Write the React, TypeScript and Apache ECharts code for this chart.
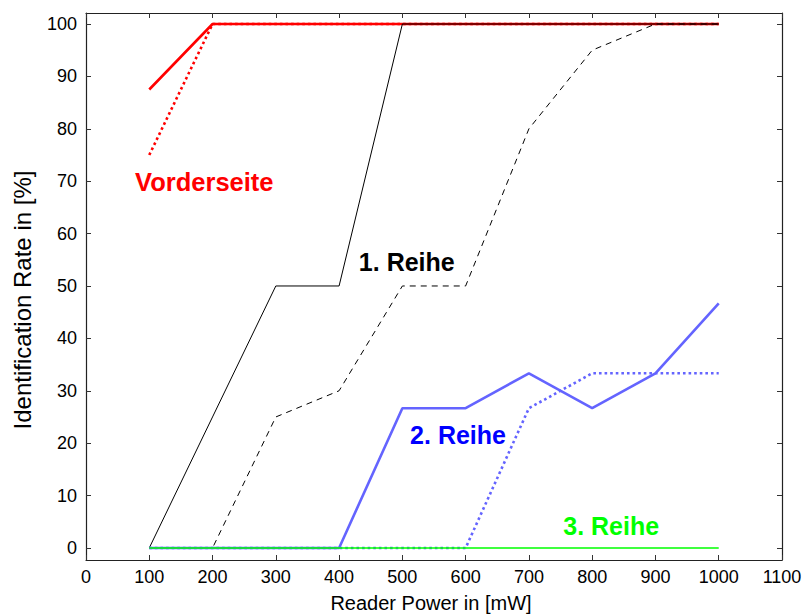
import React, { useEffect, useRef } from "react";
import * as echarts from "echarts";

// Reader power settings [mW]
const power = [100, 200, 300, 400, 500, 600, 700, 800, 900, 1000];

// Identification rates [%]
const vorderseiteA = [87.5, 100, 100, 100, 100, 100, 100, 100, 100, 100];
const vorderseiteB = [75, 100, 100, 100, 100, 100, 100, 100, 100, 100];
const reihe1A = [0, 25, 50, 50, 100, 100, 100, 100, 100, 100];
const reihe1B = [0, 0, 25, 30, 50, 50, 80, 95, 100, 100];
const reihe2A = [0, 0, 0, 0, 26.67, 26.67, 33.33, 26.67, 33.33, 46.67];
const reihe2B = [0, 0, 0, 0, 0, 0, 26.67, 33.33, 33.33, 33.33];
const reihe3 = [0, 0, 0, 0, 0, 0, 0, 0, 0, 0];

const yTicks = [0, 10, 20, 30, 40, 50, 60, 70, 80, 90, 100];

const xTitle = "Reader Power in [mW]";
const yTitle = "Identification Rate in [%]";

// Text annotations placed in data coordinates
const annotations = [
  { name: "Vorderseite", x: 187, y: 69.8, color: "#ff0000" },
  { name: "1. Reihe", x: 507, y: 54.6, color: "#000000" },
  { name: "2. Reihe", x: 588, y: 21.6, color: "#0000ff" },
  { name: "3. Reihe", x: 830, y: 4.2, color: "#00ff00" },
];

const FONT = "Liberation Sans, Arial, Helvetica, sans-serif";

const pairs = (ys: number[]) => power.map((x, i) => [x, ys[i]]);

export default function App() {
  const ref = useRef<HTMLDivElement>(null);

  useEffect(() => {
    if (!ref.current) return;
    const chart = echarts.init(ref.current, undefined, { renderer: "svg" });

    const axisLine = { show: true, onZero: false, lineStyle: { color: "#222", width: 1.2 } };
    const tick = { show: true, inside: true, length: 5, lineStyle: { color: "#333", width: 1 } };

    const line = (ys: number[], color: string, width: number, type: any, z: number) => ({
      type: "line",
      data: pairs(ys),
      symbol: "none",
      z,
      lineStyle: { color, width, type, cap: "butt" },
      emphasis: { disabled: true },
    });

    chart.setOption({
      animation: false,
      backgroundColor: "#ffffff",
      textStyle: { fontFamily: FONT },
      grid: { left: 86, right: 22, top: 13, bottom: 54, outerBoundsMode: "none", containLabel: false },
      graphic: [
        {
          type: "text",
          x: 22,
          y: 300,
          rotation: Math.PI / 2,
          style: {
            text: yTitle,
            fontSize: 24,
            fontFamily: FONT,
            fill: "#000",
            align: "center",
            verticalAlign: "middle",
          },
        },
      ],
      xAxis: [
        {
          type: "value",
          min: 0,
          max: 1100,
          interval: 100,
          position: "bottom",
          name: xTitle,
          nameLocation: "middle",
          nameGap: 33,
          nameTextStyle: { fontSize: 20, color: "#000", fontFamily: FONT, padding: [0, 6, 0, 0] },
          axisLine,
          axisTick: tick,
          axisLabel: {
            fontSize: 18,
            color: "#000",
            margin: 8,
            fontFamily: FONT,
            formatter: (v: number) => String(v),
          },
          splitLine: { show: false },
        },
        {
          type: "value",
          min: 0,
          max: 1100,
          interval: 100,
          position: "top",
          axisLine,
          axisTick: tick,
          axisLabel: { show: false },
          splitLine: { show: false },
        },
      ],
      yAxis: [
        {
          type: "value",
          min: -2.3,
          max: 102.1,
          position: "left",
          axisLine,
          axisTick: { ...tick, customValues: yTicks },
          axisLabel: {
            fontSize: 18,
            color: "#000",
            margin: 9,
            customValues: yTicks,
            fontFamily: FONT,
            formatter: (v: number) => String(v),
          },
          splitLine: { show: false },
        },
        {
          type: "value",
          min: -2.3,
          max: 102.1,
          position: "right",
          axisLine,
          axisTick: { ...tick, customValues: yTicks },
          axisLabel: { show: false, customValues: yTicks },
          splitLine: { show: false },
        },
      ],
      series: [
        line(vorderseiteA, "#ff0000", 2.6, "solid", 2),
        line(vorderseiteB, "#ff0000", 2.6, [2.6, 3], 3),
        line(reihe1A, "#000000", 1, "solid", 4),
        line(reihe1B, "#000000", 1, [6, 5], 5),
        line(reihe2A, "#6464ff", 2.6, "solid", 6),
        line(reihe2B, "#6464ff", 2.6, [2.6, 3], 7),
        {
          ...line(reihe3, "#00ff00", 1.6, "solid", 8),
          markPoint: {
            symbol: "circle",
            symbolSize: 0,
            silent: true,
            data: annotations.map((a) => ({
              coord: [a.x, a.y],
              label: {
                show: true,
                position: "inside",
                formatter: a.name,
                color: a.color,
                fontSize: a.name === "Vorderseite" ? 25.5 : 25,
                fontWeight: "bold",
                fontFamily: FONT,
              },
            })),
          },
        },
      ],
    });

    return () => chart.dispose();
  }, []);

  return (
    <div
      ref={ref}
      style={{ position: "absolute", left: 0, top: 0, width: 804, height: 614, background: "#fff" }}
    />
  );
}
